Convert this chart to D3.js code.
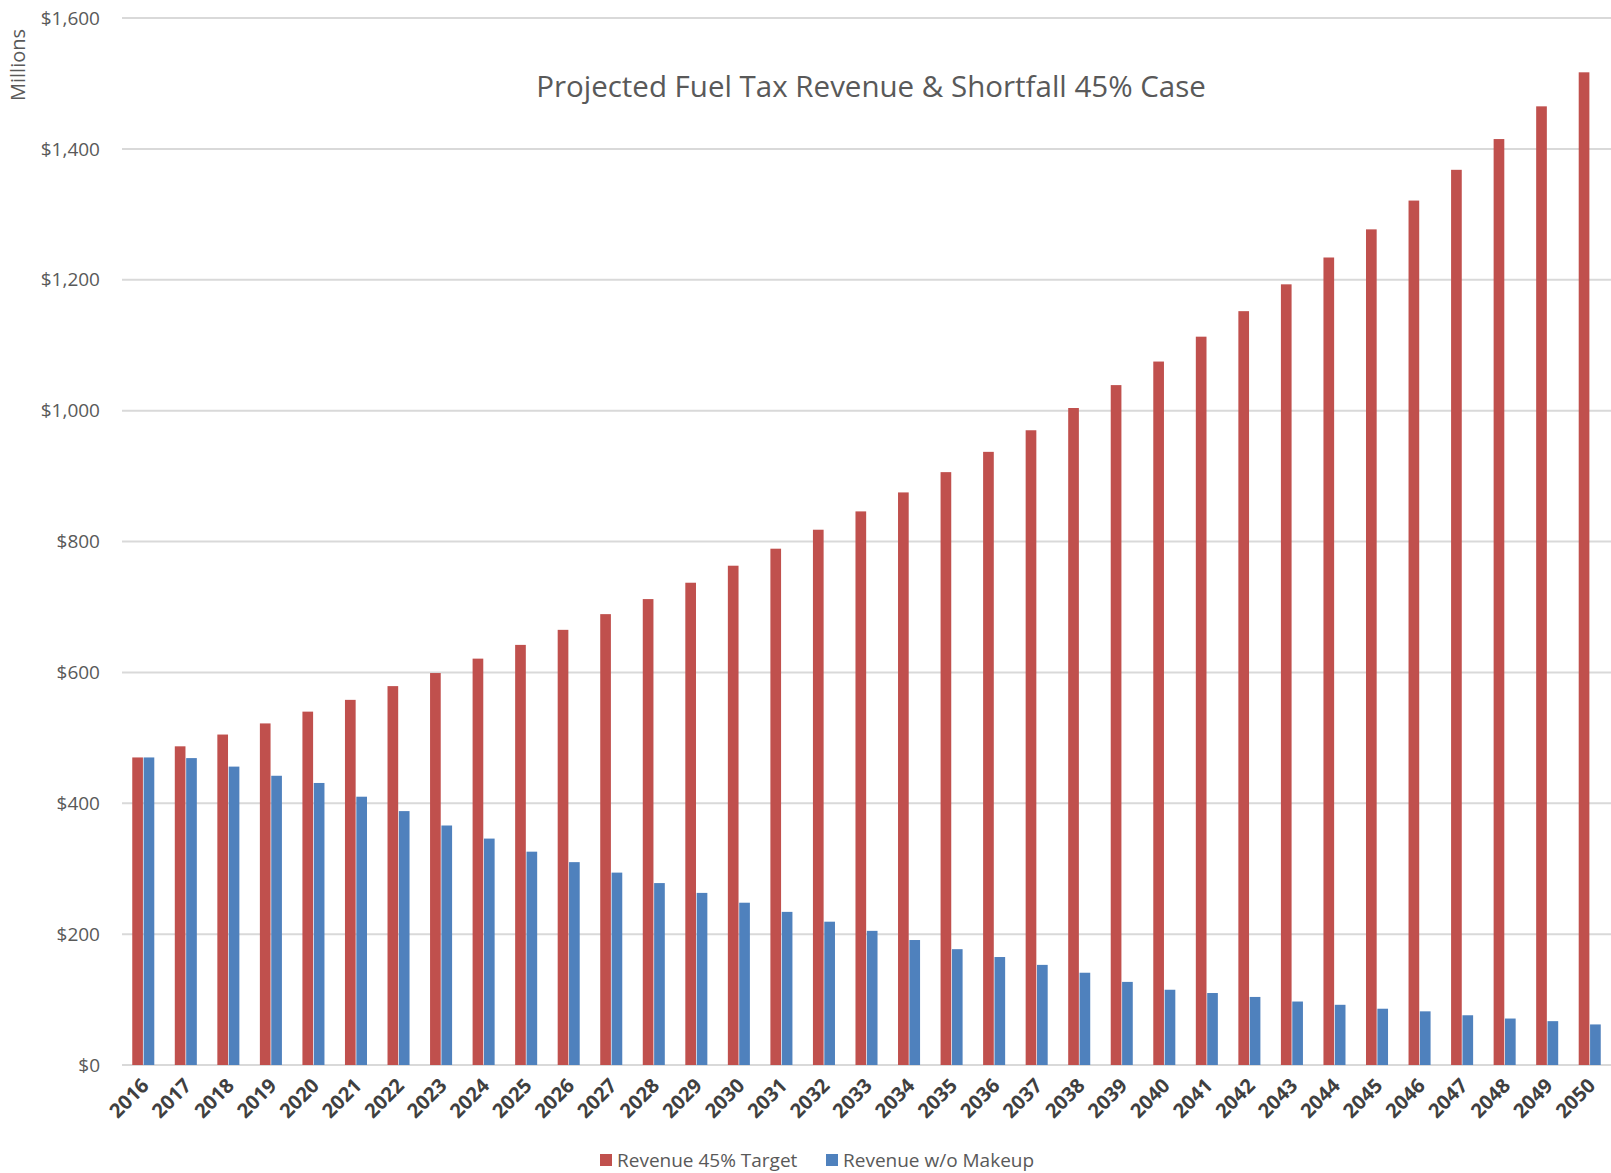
<!DOCTYPE html>
<html>
<head>
<meta charset="utf-8">
<script src="https://cdn.jsdelivr.net/npm/d3@7"></script>
<style>
  body { margin: 0; background: white; }
  text { font-family: "Open Sans", sans-serif; fill: #595959; }
</style>
</head>
<body>
<script>
const width = 1611, height = 1173;

const years = d3.range(2016, 2051).map(String);
const seriesNames = ["Revenue 45% Target", "Revenue w/o Makeup"];
const target = [470, 487, 505, 522, 540, 558, 579, 599, 621, 642, 665, 689, 712, 737, 763, 789, 818, 846, 875, 906, 937, 970, 1004, 1039, 1075, 1113, 1152, 1193, 1234, 1277, 1321, 1368, 1415, 1465, 1517];
const noMakeup = [470, 469, 456, 442, 431, 410, 388, 366, 346, 326, 310, 294, 278, 263, 248, 234, 219, 205, 191, 177, 165, 153, 141, 127, 115, 110, 104, 97, 92, 86, 82, 76, 71, 67, 62];
const yTicks = [0, 200, 400, 600, 800, 1000, 1200, 1400, 1600];
const colours = ["#C0504D", "#4F81BD"];

const margin = {top: 18, right: 0, bottom: 108, left: 122};

const svg = d3.select("body").append("svg")
    .attr("width", width)
    .attr("height", height);

svg.append("rect")
    .attr("width", width)
    .attr("height", height)
    .attr("fill", "white");

const x0 = d3.scaleBand()
    .domain(years)
    .range([margin.left, width - margin.right])
    .paddingInner(0.45)
    .paddingOuter(0.225);

const x1 = d3.scaleBand()
    .domain(seriesNames)
    .range([0, x0.bandwidth()])
    .padding(0.06);

const y = d3.scaleLinear()
    .domain([0, 1600])
    .range([height - margin.bottom, margin.top]);

// gridlines
svg.append("g")
    .selectAll("line")
    .data(yTicks)
    .enter().append("line")
        .attr("x1", margin.left)
        .attr("x2", width - margin.right)
        .attr("y1", d => y(d))
        .attr("y2", d => y(d))
        .attr("stroke", "#d9d9d9")
        .attr("stroke-width", 2);

// y labels
svg.append("g")
    .selectAll("text")
    .data(yTicks)
    .enter().append("text")
        .attr("x", 100)
        .attr("y", d => y(d))
        .attr("dy", "0.35em")
        .attr("text-anchor", "end")
        .style("font-size", "19px")
        .text(d => "$" + d3.format(",")(d));

svg.append("text")
    .attr("transform", "translate(25,65) rotate(-90)")
    .attr("text-anchor", "middle")
    .style("font-size", "20px")
    .text("Millions");

// bars
const rows = years.map((yr, i) => ({year: yr, values: [target[i], noMakeup[i]]}));

svg.append("g")
    .selectAll("g")
    .data(rows)
    .enter().append("g")
        .attr("transform", d => `translate(${x0(d.year)},0)`)
    .selectAll("rect")
    .data(d => d.values.map((v, j) => ({name: seriesNames[j], value: v, c: colours[j]})))
    .enter().append("rect")
        .attr("x", d => x1(d.name))
        .attr("width", x1.bandwidth())
        .attr("y", d => y(d.value))
        .attr("height", d => y(0) - y(d.value))
        .attr("fill", d => d.c);

// x labels
svg.append("g")
    .selectAll("text")
    .data(years)
    .enter().append("text")
        .attr("transform", d => `translate(${x0(d) + x0.bandwidth() / 2 - 3},${y(0) + 12}) rotate(-45)`)
        .attr("text-anchor", "end")
        .attr("dy", "0.7em")
        .style("font-size", "20px")
        .style("font-weight", "bold")
        .style("fill", "#404040")
        .text(d => d);

// title
svg.append("text")
    .attr("x", 871)
    .attr("y", 97)
    .attr("text-anchor", "middle")
    .style("font-size", "29.5px")
    .text("Projected Fuel Tax Revenue & Shortfall 45% Case");

// legend
const legend = svg.append("g");
const legendX = [600, 826];
seriesNames.forEach((name, i) => {
    legend.append("rect")
        .attr("x", legendX[i])
        .attr("y", 1154)
        .attr("width", 12)
        .attr("height", 12)
        .attr("fill", colours[i]);
    legend.append("text")
        .attr("x", legendX[i] + 17)
        .attr("y", 1160)
        .attr("dy", "0.35em")
        .style("font-size", "19px")
        .text(name);
});
</script>
</body>
</html>
